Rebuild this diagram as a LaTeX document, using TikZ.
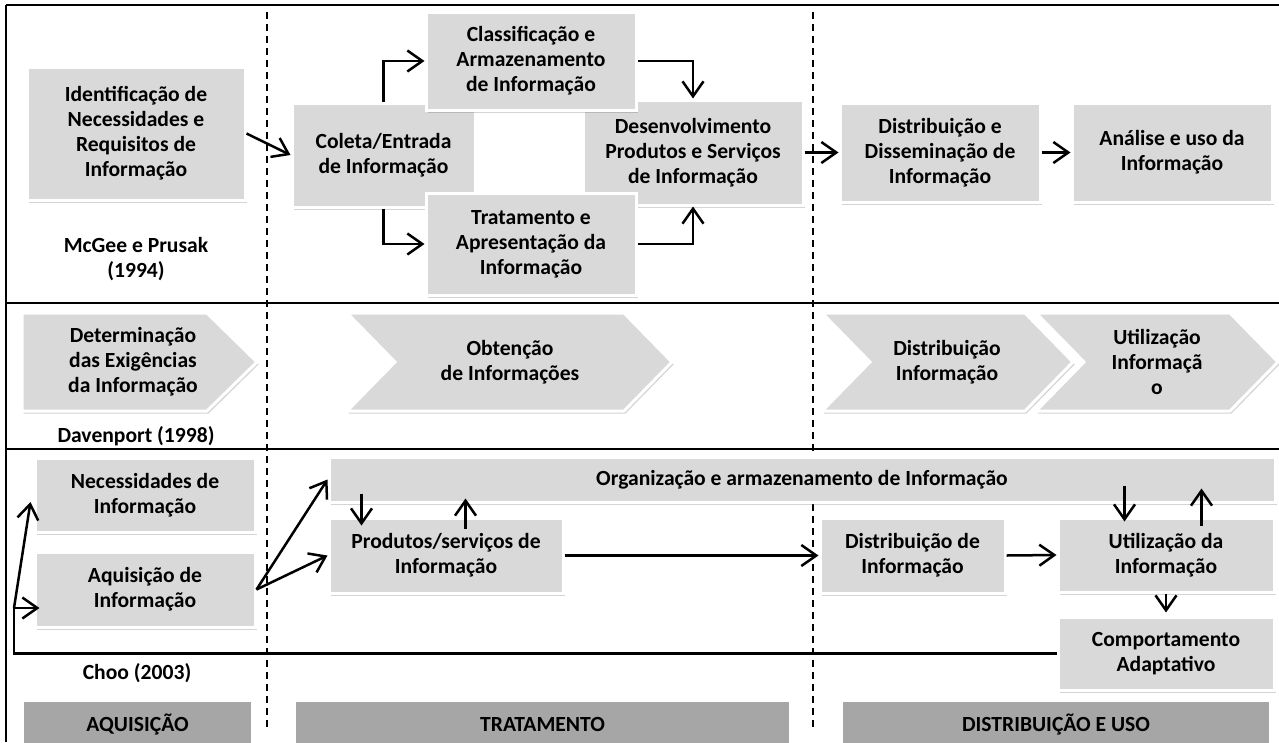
\documentclass[tikz,border=0pt]{standalone}
\usepackage{fontspec}
\setmainfont{Carlito}
\usetikzlibrary{arrows.meta,shadows,calc}
\definecolor{boxgray}{HTML}{D9D9D9}
\definecolor{bargray}{HTML}{A6A6A6}
\definecolor{shade}{HTML}{6F6F6F}

\begin{document}
\begin{tikzpicture}[x=1pt,y=-1pt,
  txt/.style={font=\bfseries\fontsize{21.6}{25}\selectfont, align=center, text=black, inner sep=0pt},
  softshadow/.style={drop shadow={shadow xshift=1.5pt, shadow yshift=-2.5pt, opacity=0.3, fill=shade}},
  box/.style={txt, rectangle, fill=boxgray, draw=white, line width=3pt, softshadow},
  chev/.style={fill=boxgray, draw=white, line width=3pt, line join=miter, softshadow},
  bar/.style={txt, rectangle, fill=bargray, minimum height=44pt, text height=15pt, text depth=0pt},
  frame/.style={line width=2.6pt, black},
  guide/.style={line width=2pt, dash pattern=on 7pt off 5pt},
  conn/.style={line width=2.5pt},
  arr/.style={conn, -{Straight Barb[length=15pt,width=21pt,line width=2.5pt]}}
]
\useasboundingbox (0,0) rectangle (1279,742);

% frame and row separators
\draw[frame] (6,5) -- (1279,5);
\draw[frame] (6,5) -- (6,742);
\draw[frame] (6,303) -- (1279,303);
\draw[frame] (6,449) -- (1279,449);

% phase boundaries
\draw[guide] (267,12) -- (267,730);
\draw[guide] (813,12) -- (813,730);

% ---------- McGee e Prusak (1994) ----------
\node[box, minimum width=218pt, minimum height=133pt] (ident) at (136,133.5)
  {Identificação de\\Necessidades e\\Requisitos de\\Informação};
\node[box, minimum width=183pt, minimum height=104pt] (coleta) at (383.5,155)
  {Coleta/Entrada\\de Informação};
\node[box, minimum width=220pt, minimum height=105pt] (desenv) at (693,152.5)
  {Desenvolvimento\\Produtos e Serviços\\de Informação};
\node[box, minimum width=210pt, minimum height=98pt] (classif) at (531,61)
  {Classificação e\\Armazenamento\\de Informação};
\node[box, minimum width=210pt, minimum height=102pt] (tratam) at (531,244)
  {Tratamento e\\Apresentação da\\Informação};
\node[box, minimum width=200pt, minimum height=99pt] (dissem) at (940,152.5)
  {Distribuição e\\Disseminação de\\Informação};
\node[box, minimum width=200pt, minimum height=99pt] (analise) at (1172,152.5)
  {Análise e uso da\\Informação};
\node[txt] (mcgee) at (136,259) {McGee e Prusak\\(1994)};

\draw[arr] (ident.east) -- (coleta.west);
\draw[arr] (coleta.north) |- (classif.west);
\draw[arr] (coleta.south) |- (tratam.west);
\draw[arr] (classif.east) -| (desenv.north);
\draw[arr] (tratam.east) -| (desenv.south);
\draw[arr] (desenv.east) -- (dissem.west);
\draw[arr] (dissem.east) -- (analise.west);

% ---------- Davenport (1998) ----------
\filldraw[chev] (22,313) -- (207,313) -- (257,362) -- (207,411) -- (22,411) -- cycle;
\filldraw[chev] (347,313) -- (624,313) -- (672,362) -- (624,411) -- (347,411) -- (395,362) -- cycle;
\filldraw[chev] (822,313) -- (1025,313) -- (1073,362) -- (1025,411) -- (822,411) -- (870,362) -- cycle;
\filldraw[chev] (1036,313) -- (1230,313) -- (1278,362) -- (1230,411) -- (1036,411) -- (1084,362) -- cycle;
\node[txt] (determ) at (133,362) {Determinação\\das Exigências\\da Informação};
\node[txt] (obten) at (510,362) {Obtenção\\de Informações};
\node[txt] (distrib) at (947,362) {Distribuição\\Informação};
\node[txt] (utiliz) at (1157,362) {Utilização\\Informaçã\\o};
\node[txt] (davenport) at (136,436) {Davenport (1998)};

% ---------- Choo (2003) ----------
\node[box, minimum width=220pt, minimum height=74pt] (neces) at (145,495)
  {Necessidades de\\Informação};
\node[box, minimum width=220pt, minimum height=75pt] (aquis) at (145,589.5)
  {Aquisição de\\Informação};
\node[box, minimum width=946pt, minimum height=45pt] (orga) at (802,479.5)
  {Organização e armazenamento de Informação};
\node[box, minimum width=234pt, minimum height=75pt] (prod) at (446,555.5)
  {Produtos/serviços de\\Informação};
\node[box, minimum width=185pt, minimum height=75pt] (distr) at (912.5,555.5)
  {Distribuição de\\Informação};
\node[box, minimum width=216pt, minimum height=74pt] (util) at (1166,555)
  {Utilização da\\Informação};
\node[box, minimum width=216pt, minimum height=73pt] (comp) at (1166,653.5)
  {Comportamento\\Adaptativo};
\node[txt] (choo) at (137,673) {Choo (2003)};

\coordinate (loopc) at (14,608);
\draw[conn] (comp.west) -| (loopc);
\draw[arr] (loopc) -- ($(aquis.west |- loopc)+(6,0)$);
\draw[arr] (loopc) -- ($(neces.west)+(-3,7)$);
\draw[arr] (aquis.east) -- (orga.west);
\draw[arr] (aquis.east) -- (prod.west);
\draw[arr] ($(orga.south west)+(34,-10)$) -- ($(prod.north west)+(34,9)$);
\draw[arr] ($(prod.north west)+(138,12)$) -- ($(orga.south west)+(138,-5)$);
\draw[arr] (prod.east) -- (distr.west);
\draw[arr] (distr.east) -- (util.west);
\draw[arr] ($(util.north west)+(68,-31)$) -- ($(util.north west)+(68,5)$);
\draw[arr] ($(util.north west)+(145,9)$) -- ($(util.north west)+(145,-28)$);
\draw[arr] (util.south) -- ($(comp.north)+(0,-3)$);

% ---------- phase bars ----------
\node[bar, minimum width=227pt] (bacq) at (137.5,724) {AQUISIÇÃO};
\node[bar, minimum width=493pt] (btrat) at (542.5,724) {TRATAMENTO};
\node[bar, minimum width=426pt] (bdist) at (1056,724) {DISTRIBUIÇÃO E USO};
\end{tikzpicture}
\end{document}
